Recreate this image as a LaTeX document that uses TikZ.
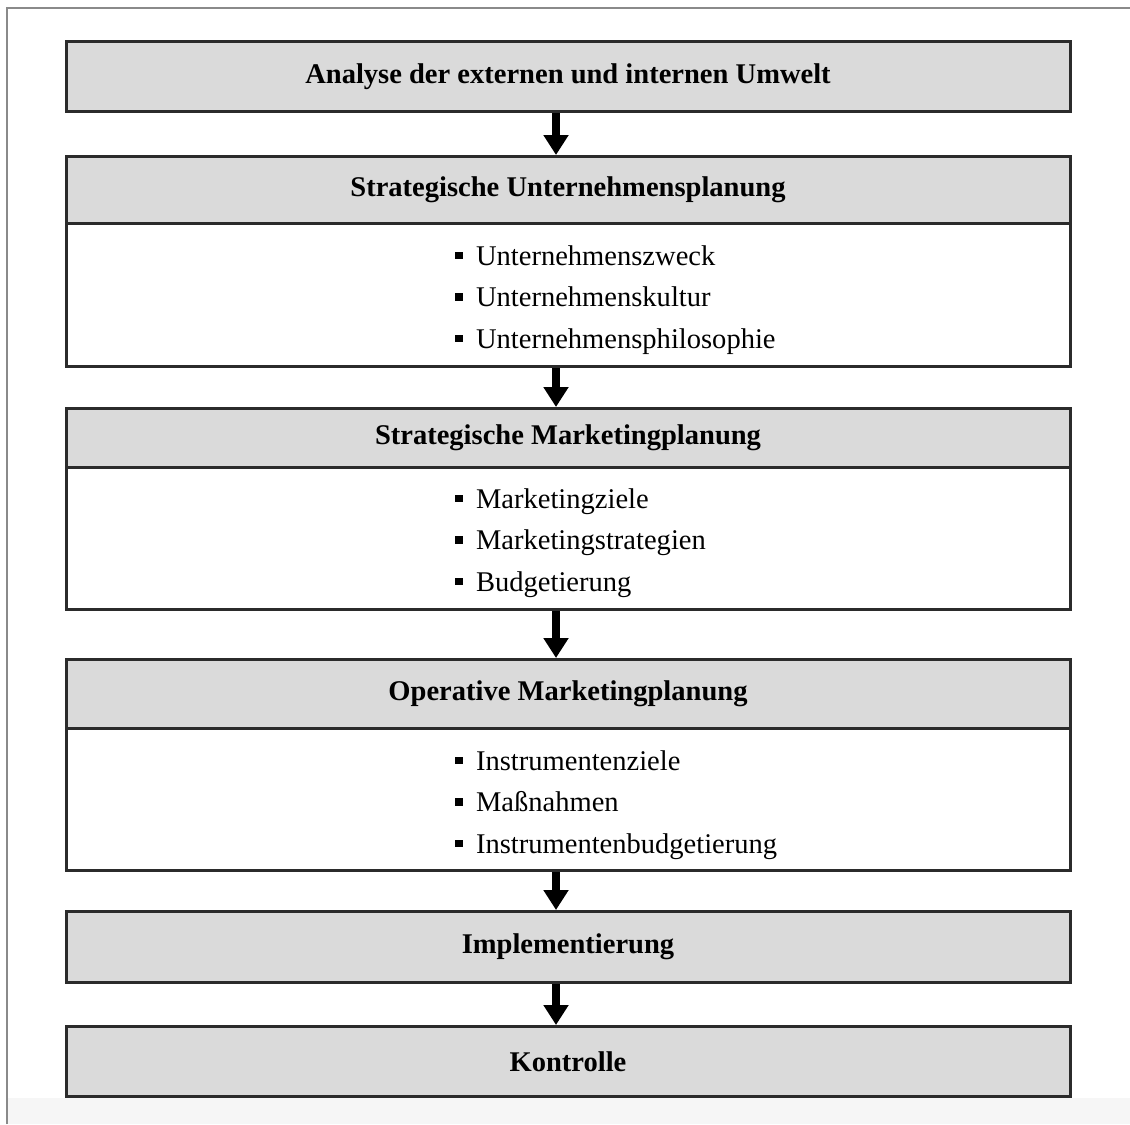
\documentclass[tikz,border=0pt]{standalone}
\usepackage{fontspec}
\setmainfont{Liberation Serif}
\usetikzlibrary{arrows.meta}
\definecolor{boxfill}{HTML}{DADADA}
\definecolor{boxline}{HTML}{2B2B2B}
\definecolor{framegray}{HTML}{8A8A8A}
\definecolor{footgray}{HTML}{F6F6F6}
\newcommand{\bulletsq}{\rule[4.5pt]{5.6pt}{5.6pt}\hspace{10pt}}
\begin{document}
\begin{tikzpicture}[x=0.75pt,y=-0.75pt,
  hdr/.style={draw=boxline, line width=2.25pt, fill=boxfill, minimum width=753pt,
    inner sep=0pt, anchor=north, font=\fontsize{21.4}{25}\selectfont\bfseries},
  bodybox/.style={draw=boxline, line width=2.25pt, fill=white, minimum width=753pt,
    inner sep=0pt, anchor=north},
  item/.style={anchor=base west, inner sep=0pt, font=\fontsize{21.4}{25}\selectfont},
  flow/.style={line width=6.6pt, draw=black, -{Triangle[width=18pt,length=15pt]}}
]
\useasboundingbox (0,0) rectangle (1130,1124);
\fill[white] (0,0) rectangle (1130,1124);
\fill[footgray] (7,1098) rectangle (1130,1124);
\draw[framegray, line width=1.1pt] (7,1124) -- (7,8) -- (1130,8);

\coordinate (ax) at (556,0);

% Analysis
\node[hdr, minimum height=52.5pt] (hA) at (568,40) {Analyse der externen und internen Umwelt};

% Strategic corporate planning
\node[bodybox, minimum height=107.25pt] (bB) at (568,222) {};
\node[hdr, minimum height=50.25pt] (hB) at (568,155) {Strategische Unternehmensplanung};
\node[item] (iB1) at (455,265) {\bulletsq Unternehmenszweck};
\node[item] (iB2) at (455,306.5) {\bulletsq Unternehmenskultur};
\node[item] (iB3) at (455,348) {\bulletsq Unternehmensphilosophie};

% Strategic marketing planning
\node[bodybox, minimum height=106.5pt] (bC) at (568,466) {};
\node[hdr, minimum height=44.25pt] (hC) at (568,407) {Strategische Marketingplanung};
\node[item] (iC1) at (455,508) {\bulletsq Marketingziele};
\node[item] (iC2) at (455,549.5) {\bulletsq Marketingstrategien};
\node[item] (iC3) at (455,591) {\bulletsq Budgetierung};

% Operative marketing planning
\node[bodybox, minimum height=106.5pt] (bD) at (568,727) {};
\node[hdr, minimum height=51.75pt] (hD) at (568,658) {Operative Marketingplanung};
\node[item] (iD1) at (455,770) {\bulletsq Instrumentenziele};
\node[item] (iD2) at (455,811.5) {\bulletsq Maßnahmen};
\node[item] (iD3) at (455,853) {\bulletsq Instrumentenbudgetierung};

% Implementation and control
\node[hdr, minimum height=53.25pt] (hE) at (568,910) {Implementierung};
\node[hdr, minimum height=52.5pt] (hF) at (568,1025) {Kontrolle};

% Flow arrows
\draw[flow] (hA.south -| ax) -- (hB.north -| ax);
\draw[flow] (bB.south -| ax) -- (hC.north -| ax);
\draw[flow] (bC.south -| ax) -- (hD.north -| ax);
\draw[flow] (bD.south -| ax) -- (hE.north -| ax);
\draw[flow] (hE.south -| ax) -- (hF.north -| ax);
\end{tikzpicture}
\end{document}
